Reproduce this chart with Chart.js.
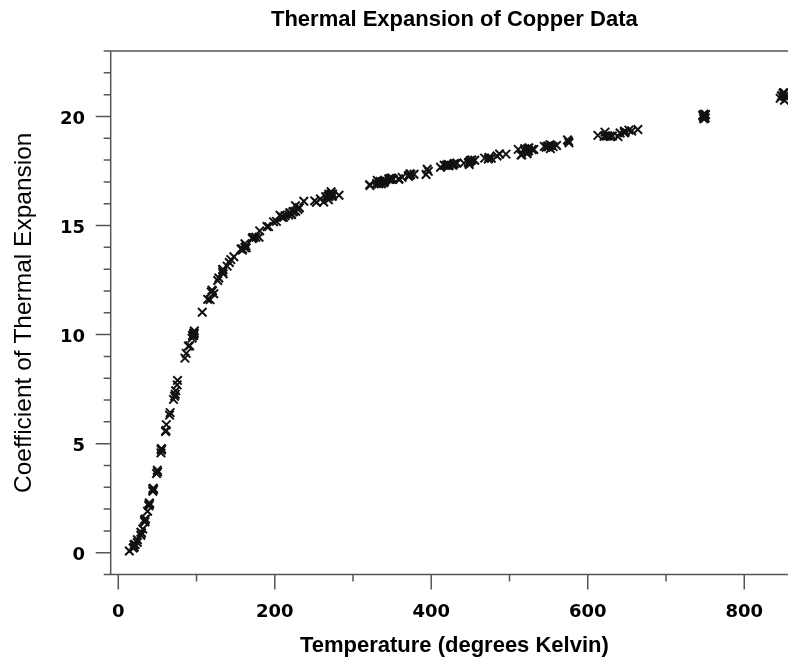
<!DOCTYPE html>
<html>
<head>
<meta charset="utf-8">
<title>Thermal Expansion of Copper Data</title>
<script src="https://cdn.jsdelivr.net/npm/chart.js@4.4.1/dist/chart.umd.min.js"></script>
<style>
    html, body { margin: 0; padding: 0; background: #fff; overflow: hidden; }
    #frame { width: 788px; height: 662px; overflow: hidden; }
    #holder { width: 798px; height: 662px; }
</style>
</head>
<body>
<div id="frame"><div id="holder"><canvas id="copperChart" width="798" height="662"></canvas></div></div>
<script>
// temperature (degrees Kelvin) and coefficient of thermal expansion
var temperature = [
    24.41, 34.82, 44.09, 45.07, 54.98, 65.51, 70.53, 75.70, 89.57, 91.14,
    96.40, 97.19, 114.26, 120.25, 127.08, 133.55, 133.61, 158.67, 172.74, 171.31,
    202.14, 220.55, 221.05, 221.39, 250.99, 268.99, 271.80, 271.97, 321.31, 321.69,
    330.14, 333.03, 333.47, 340.77, 345.65, 373.11, 373.79, 411.82, 419.51, 421.59,
    422.02, 422.47, 422.61, 441.75, 447.41, 448.70, 472.89, 476.69, 522.47, 522.62,
    524.43, 546.75, 549.53, 575.29, 576.00, 625.55, 20.15, 28.78, 29.57, 37.41,
    39.12, 50.24, 61.38, 66.25, 73.42, 95.52, 107.32, 122.04, 134.03, 163.19,
    163.48, 175.70, 179.86, 211.27, 217.78, 219.14, 262.52, 268.01, 268.62, 336.25,
    337.23, 339.33, 427.38, 428.58, 432.68, 528.99, 531.08, 628.34, 253.24, 273.13,
    273.66, 282.10, 346.62, 347.19, 348.78, 351.18, 450.10, 450.35, 451.92, 455.56,
    552.22, 553.56, 555.74, 652.59, 656.20, 14.13, 20.41, 31.30, 33.84, 39.70,
    48.83, 54.50, 60.41, 72.77, 75.25, 86.84, 94.88, 96.40, 117.37, 139.08,
    147.73, 158.63, 161.84, 192.11, 206.76, 209.07, 213.32, 226.44, 237.12, 330.90,
    358.72, 370.77, 372.72, 396.24, 416.59, 484.02, 495.47, 514.78, 515.65, 519.47,
    544.47, 560.11, 620.77, 18.97, 28.93, 33.91, 40.03, 44.66, 49.87, 55.16,
    60.90, 72.08, 85.15, 97.06, 119.63, 133.27, 143.84, 161.91, 180.67, 198.44,
    226.86, 229.65, 258.27, 273.77, 339.15, 350.13, 362.75, 371.03, 393.32, 448.53,
    473.78, 511.12, 524.70, 548.75, 551.64, 574.02, 623.86, 21.46, 24.33, 33.43,
    39.22, 44.18, 55.02, 94.33, 96.44, 118.82, 128.48, 141.94, 156.92, 171.65,
    190.00, 223.26, 223.88, 231.50, 265.05, 269.44, 271.78, 273.46, 334.61, 339.79,
    349.52, 358.18, 377.98, 394.77, 429.66, 468.22, 487.27, 519.54, 523.03, 612.99,
    638.59, 641.36, 622.05, 631.50, 663.97, 646.90, 748.29, 749.21, 750.14, 647.04,
    646.89, 746.90, 748.43, 747.35, 749.27, 647.61, 747.78, 750.51, 851.37, 845.97,
    847.54, 849.93, 851.61, 849.75, 850.98, 848.23
];
var coefficient = [
    0.591, 1.547, 2.902, 2.894, 4.703, 6.307, 7.03, 7.898, 9.470, 9.484,
    10.072, 10.163, 11.615, 12.005, 12.478, 12.982, 12.970, 13.926, 14.452, 14.404,
    15.190, 15.550, 15.528, 15.499, 16.131, 16.438, 16.387, 16.549, 16.872, 16.830,
    16.926, 16.907, 16.966, 17.060, 17.122, 17.311, 17.355, 17.668, 17.767, 17.803,
    17.765, 17.768, 17.736, 17.858, 17.877, 17.912, 18.046, 18.085, 18.291, 18.357,
    18.426, 18.584, 18.610, 18.870, 18.795, 19.111, 0.367, 0.796, 0.892, 1.903,
    2.150, 3.697, 5.870, 6.421, 7.422, 9.944, 11.023, 11.87, 12.786, 14.067,
    13.974, 14.462, 14.464, 15.381, 15.483, 15.59, 16.075, 16.347, 16.181, 16.915,
    17.003, 16.978, 17.756, 17.808, 17.868, 18.481, 18.486, 19.090, 16.062, 16.337,
    16.345, 16.388, 17.159, 17.116, 17.164, 17.123, 17.979, 17.974, 18.007, 17.993,
    18.523, 18.669, 18.617, 19.371, 19.330, 0.080, 0.248, 1.089, 1.418, 2.278,
    3.624, 4.574, 5.556, 7.267, 7.695, 9.136, 9.959, 9.957, 11.600, 13.138,
    13.564, 13.871, 13.994, 14.947, 15.473, 15.379, 15.455, 15.908, 16.114, 17.071,
    17.135, 17.282, 17.368, 17.483, 17.764, 18.185, 18.271, 18.236, 18.237, 18.523,
    18.627, 18.665, 19.086, 0.214, 0.943, 1.429, 2.241, 2.951, 3.782, 4.757,
    5.602, 7.169, 8.920, 10.055, 12.035, 12.861, 13.436, 14.167, 14.755, 15.168,
    15.651, 15.746, 16.216, 16.445, 16.965, 17.121, 17.206, 17.250, 17.339, 17.793,
    18.123, 18.49, 18.566, 18.645, 18.706, 18.924, 19.1, 0.375, 0.471, 1.504,
    2.204, 2.813, 4.765, 9.835, 10.040, 11.946, 12.596, 13.303, 13.922, 14.440,
    14.951, 15.627, 15.639, 15.814, 16.315, 16.334, 16.430, 16.423, 17.024, 17.009,
    17.165, 17.134, 17.349, 17.576, 17.848, 18.090, 18.276, 18.404, 18.519, 19.133,
    19.074, 19.239, 19.280, 19.101, 19.398, 19.252, 19.89, 20.007, 19.929, 19.268,
    19.324, 20.049, 20.107, 20.062, 20.065, 19.286, 19.972, 20.088, 20.743, 20.83,
    20.935, 21.035, 20.93, 21.074, 21.085, 20.935
];

var xTicks = [0, 200, 400, 600, 800];
var xMinorTicks = [100, 300, 500, 700];
var yTicks = [0, 5, 10, 15, 20];
var yMinorTicks = [-1, 1, 2, 3, 4, 6, 7, 8, 9, 11, 12, 13, 14, 16, 17, 18, 19, 21, 22, 23];

var points = temperature.map(function (t, i) {
    return { x: t, y: coefficient[i] };
});

// axis lines and outward tick marks, placed with the chart's own scales
var axisFrame = {
    id: 'axisFrame',
    afterDraw: function (chart) {
        var ctx = chart.ctx;
        var area = chart.chartArea;
        var xs = chart.scales.x;
        var ys = chart.scales.y;
        ctx.save();
        ctx.strokeStyle = '#555';
        ctx.lineWidth = 1.5;
        ctx.beginPath();
        ctx.moveTo(area.left, area.top);
        ctx.lineTo(area.left, area.bottom);
        ctx.moveTo(area.left, area.bottom);
        ctx.lineTo(area.right, area.bottom);
        ctx.moveTo(area.left, area.top);
        ctx.lineTo(area.right, area.top);
        yTicks.forEach(function (v) {
            var py = ys.getPixelForValue(v);
            ctx.moveTo(area.left - 15, py);
            ctx.lineTo(area.left, py);
        });
        yMinorTicks.forEach(function (v) {
            var py = ys.getPixelForValue(v);
            ctx.moveTo(area.left - 7, py);
            ctx.lineTo(area.left, py);
        });
        xTicks.forEach(function (v) {
            var px = xs.getPixelForValue(v);
            ctx.moveTo(px, area.bottom);
            ctx.lineTo(px, area.bottom + 15);
        });
        xMinorTicks.forEach(function (v) {
            var px = xs.getPixelForValue(v);
            ctx.moveTo(px, area.bottom);
            ctx.lineTo(px, area.bottom + 7);
        });
        ctx.stroke();
        ctx.restore();
    }
};

var titleFont = { family: '"Liberation Sans", Arial, sans-serif', size: 22, weight: 'bold' };
var tickFont = { family: '"DejaVu Sans", sans-serif', size: 18, weight: 'bold' };

new Chart(document.getElementById('copperChart'), {
    type: 'scatter',
    data: {
        datasets: [{
            label: 'Copper',
            data: points,
            pointStyle: 'crossRot',
            pointRadius: 6,
            pointHoverRadius: 6,
            borderWidth: 2,
            borderColor: '#111',
            backgroundColor: '#111',
            clip: false
        }]
    },
    options: {
        responsive: false,
        animation: false,
        layout: { padding: 0, autoPadding: false },
        plugins: {
            legend: { display: false },
            tooltip: { enabled: false },
            title: {
                display: true,
                fullSize: false,
                text: 'Thermal Expansion of Copper Data',
                color: '#000',
                font: titleFont,
                padding: { top: 6.3, bottom: 18.3 }
            }
        },
        scales: {
            x: {
                type: 'linear',
                min: -9.7,
                max: 868.7,
                afterBuildTicks: function (s) {
                    s.ticks = xTicks.map(function (v) { return { value: v }; });
                },
                afterFit: function (s) {
                    s.height = 87.5;
                    s.paddingLeft = 0;
                    s.paddingRight = 0;
                },
                grid: { display: false, drawTicks: false },
                border: { display: false },
                ticks: {
                    color: '#000',
                    font: tickFont,
                    padding: 27,
                    maxRotation: 0
                },
                title: {
                    display: true,
                    text: 'Temperature (degrees Kelvin)',
                    color: '#000',
                    font: titleFont,
                    padding: { top: 0, bottom: 2.8 }
                }
            },
            y: {
                type: 'linear',
                min: -1,
                max: 23,
                afterBuildTicks: function (s) {
                    s.ticks = yTicks.map(function (v) { return { value: v }; });
                },
                afterFit: function (s) {
                    s.width = 110.7;
                    s.paddingTop = 0;
                    s.paddingBottom = 0;
                },
                grid: { display: false, drawTicks: false },
                border: { display: false },
                ticks: {
                    color: '#000',
                    font: tickFont,
                    padding: 25.7,
                    labelOffset: 3
                },
                title: {
                    display: true,
                    text: 'Coefficient of Thermal Expansion',
                    color: '#000',
                    font: { family: '"Liberation Sans", Arial, sans-serif', size: 24.5, weight: 'normal' },
                    padding: { top: 9.6, bottom: 0 }
                }
            }
        }
    },
    plugins: [axisFrame]
});
</script>
</body>
</html>
